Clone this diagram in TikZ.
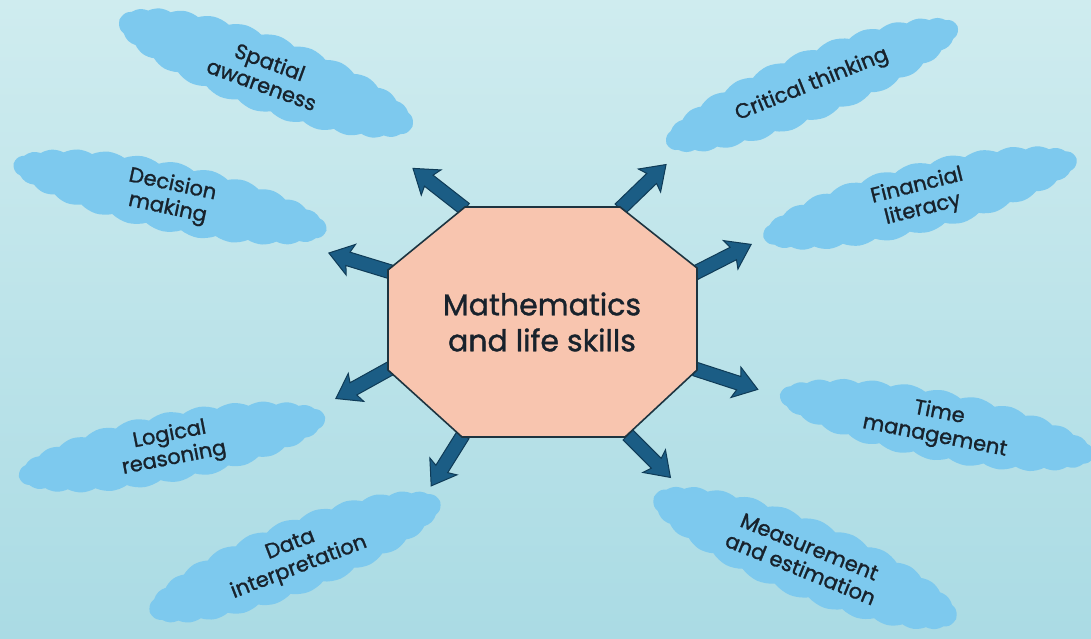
\documentclass[tikz,border=0pt]{standalone}
\usepackage{fontspec}
\setmainfont{Poppins}
\newfontfamily\medfont{Poppins}[FakeBold=1.2]
\usetikzlibrary{shapes.symbols}
\definecolor{bgtop}{HTML}{CFECEF}
\definecolor{bgbot}{HTML}{AADBE4}
\definecolor{cloudc}{HTML}{7DC9EE}
\definecolor{arrowf}{HTML}{1B5D85}
\definecolor{arrowd}{HTML}{0F3B57}
\definecolor{octf}{HTML}{F8C5AF}
\definecolor{octd}{HTML}{1D3440}
\definecolor{txt}{HTML}{18222C}
\tikzset{
  skill/.style={cloud, cloud puffs=28, cloud puff arc=60, cloud ignores aspect,
    fill=cloudc, draw=none, text=txt, align=center,
    font=\medfont\fontsize{21}{24}\selectfont, inner sep=0pt},
  barrow/.style={draw=arrowd, fill=arrowf, line width=1pt, line join=miter},
  octagon/.style={draw=octd, fill=octf, line width=1.6pt, line join=miter},
  centertext/.style={text=txt, align=center, font=\medfont\fontsize{30}{36}\selectfont}
}
\newcommand{\blockarr}[4]{%
  \begin{scope}[shift={(#1,#2)}, rotate=#3]
    \path[barrow] (0,7) -- ({#4-20},7) -- ({#4-23},16) -- (#4,0)
      -- ({#4-23},-16) -- ({#4-20},-7) -- (0,-7) -- cycle;
  \end{scope}}
\begin{document}
\begin{tikzpicture}[x=1pt, y=-1pt]
\useasboundingbox (0,0) rectangle (1091,639);
\clip (0,0) rectangle (1091,639);
\shade[top color=bgtop, bottom color=bgbot] (0,0) rectangle (1091,639);

% clouds
\node[skill, minimum width=312pt, minimum height=78pt, rotate=-20] (spatial) at (266,73) {Spatial\\awareness};
\node[skill, minimum width=320pt, minimum height=70pt, rotate=-12] (decision) at (170,197) {Decision\\making};
\node[skill, minimum width=312pt, minimum height=70pt, rotate=11] (logical) at (172,447) {Logical\\reasoning};
\node[skill, minimum width=311pt, minimum height=75pt, rotate=21] (data) at (295,557) {Data\\interpretation};
\node[skill, minimum width=314pt, minimum height=70pt, rotate=22] (critical) at (812,85) {Critical thinking};
\node[skill, minimum width=323pt, minimum height=70pt, rotate=14] (financial) at (920,198) {Financial\\literacy};
\node[skill, minimum width=320pt, minimum height=70pt, rotate=-11] (time) at (937,425) {Time\\management};
\node[skill, minimum width=326pt, minimum height=80pt, rotate=-22] (measure) at (805,558) {Measurement\\and estimation};

% arrows
\blockarr{465}{209}{142}{66}
\blockarr{620}{209}{44}{64}
\blockarr{391}{272}{163}{65}
\blockarr{391}{368}{-151}{63}
\blockarr{695}{273}{27}{63}
\blockarr{695}{369}{-18}{66}
\blockarr{463}{435}{-122}{60}
\blockarr{628}{435}{-45}{60}

% centre
\path[octagon] (465,207) -- (620,207) -- (697,268) -- (697,370) -- (625,437)
  -- (462,437) -- (388,370) -- (388,270) -- cycle;
\node[centertext] (centre) at (542,322) {Mathematics\\and life skills};
\end{tikzpicture}
\end{document}
